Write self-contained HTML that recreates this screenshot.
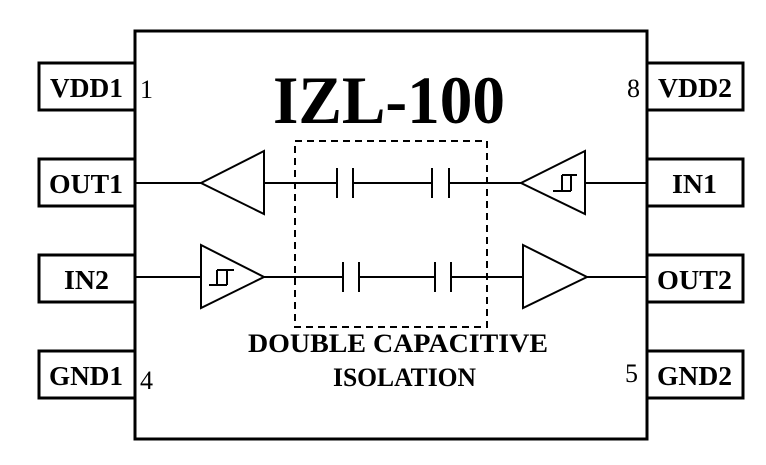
<!DOCTYPE html>
<html><head><style>body{margin:0;background:#fff}</style></head><body>
<svg width="766" height="460" xmlns="http://www.w3.org/2000/svg" font-family="Liberation Serif, serif">
<g fill="none" stroke="#000" stroke-width="3">
<rect x="135" y="31" width="512" height="408"/>
<rect x="39" y="63" width="96" height="47"/>
<rect x="39" y="159" width="96" height="47"/>
<rect x="39" y="255" width="96" height="47"/>
<rect x="39" y="351" width="96" height="47"/>
<rect x="647" y="63" width="96" height="47"/>
<rect x="647" y="159" width="96" height="47"/>
<rect x="647" y="255" width="96" height="47"/>
<rect x="647" y="351" width="96" height="47"/>
</g>
<g fill="none" stroke="#000" stroke-width="2">
<rect x="295" y="141" width="192" height="186" stroke-dasharray="7,5"/>
<line x1="135" y1="183" x2="201" y2="183"/>
<polygon points="201,183 264,151 264,214"/>
<line x1="264" y1="183" x2="337" y2="183"/>
<line x1="337" y1="168" x2="337" y2="198"/><line x1="353" y1="168" x2="353" y2="198"/>
<line x1="353" y1="183" x2="432" y2="183"/>
<line x1="432" y1="168" x2="432" y2="198"/><line x1="449" y1="168" x2="449" y2="198"/>
<line x1="449" y1="183" x2="521" y2="183"/>
<polygon points="521,183 585,151 585,214"/>
<line x1="585" y1="183" x2="647" y2="183"/>
<path d="M553,191 H571 M562,191 V175 M571,191 V175 M562,175 H577"/>
<line x1="135" y1="277" x2="201" y2="277"/>
<polygon points="201,245 264,277 201,308"/>
<path d="M209,285 H227 M217,285 V270 M227,285 V270 M217,270 H234"/>
<line x1="264" y1="277" x2="343" y2="277"/>
<line x1="343" y1="262" x2="343" y2="292"/><line x1="359" y1="262" x2="359" y2="292"/>
<line x1="359" y1="277" x2="435" y2="277"/>
<line x1="435" y1="262" x2="435" y2="292"/><line x1="451" y1="262" x2="451" y2="292"/>
<line x1="451" y1="277" x2="523" y2="277"/>
<polygon points="523,245 587,277 523,308"/>
<line x1="587" y1="277" x2="647" y2="277"/>
</g>
<g font-weight="bold" font-size="27">
<text x="50" y="97" textLength="73" lengthAdjust="spacingAndGlyphs">VDD1</text>
<text x="49" y="193" textLength="74" lengthAdjust="spacingAndGlyphs">OUT1</text>
<text x="64" y="289" textLength="45" lengthAdjust="spacingAndGlyphs">IN2</text>
<text x="49" y="385" textLength="74" lengthAdjust="spacingAndGlyphs">GND1</text>
<text x="658" y="97" textLength="74" lengthAdjust="spacingAndGlyphs">VDD2</text>
<text x="672" y="193" textLength="45" lengthAdjust="spacingAndGlyphs">IN1</text>
<text x="657" y="289" textLength="75" lengthAdjust="spacingAndGlyphs">OUT2</text>
<text x="657" y="385" textLength="75" lengthAdjust="spacingAndGlyphs">GND2</text>
<text x="273" y="123" font-size="68" textLength="232" lengthAdjust="spacingAndGlyphs">IZL-100</text>
<text x="248" y="352" font-size="26" textLength="300" lengthAdjust="spacingAndGlyphs">DOUBLE CAPACITIVE</text>
<text x="333" y="386" font-size="26" textLength="143" lengthAdjust="spacingAndGlyphs">ISOLATION</text>
</g>
<g font-size="26">
<text x="140" y="98">1</text>
<text x="627" y="97">8</text>
<text x="140" y="389">4</text>
<text x="625" y="382">5</text>
</g>
</svg>
</body></html>
